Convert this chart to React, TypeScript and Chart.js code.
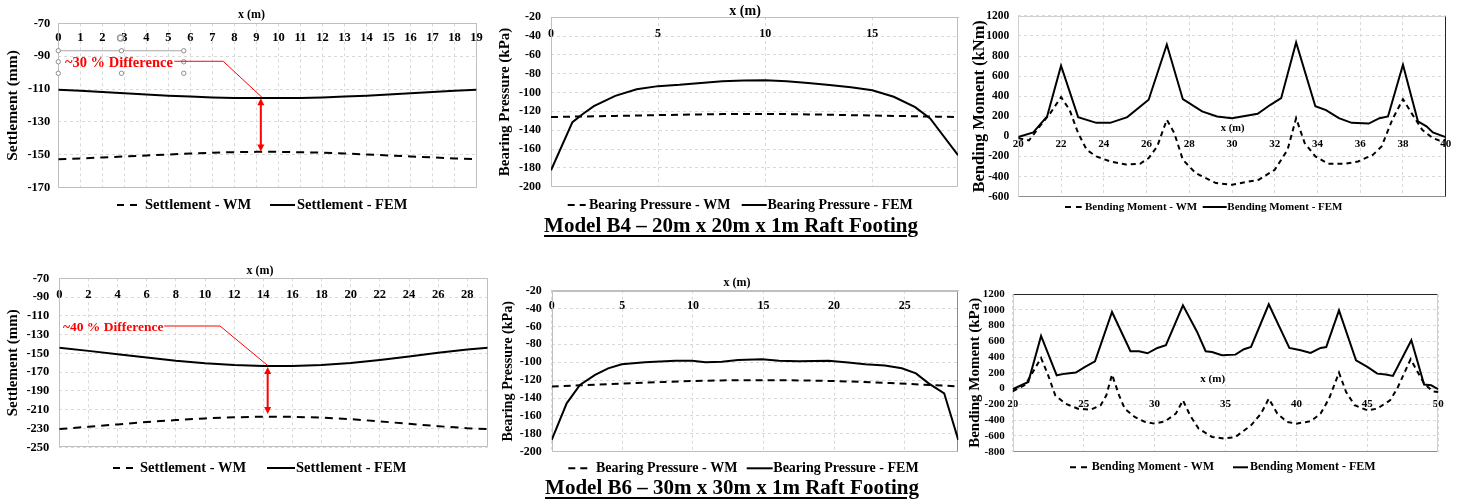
import React, { useEffect, useRef } from 'react';
import { Chart, registerables } from 'chart.js';

Chart.register(...registerables);

const SERIF = '"Liberation Serif", "Times New Roman", Times, serif';
const X_TITLE = 'x (m)';
const TITLE_B4 = 'Model B4 – 20m x 20m x 1m Raft Footing';
const TITLE_B6 = 'Model B6 – 30m x 30m x 1m Raft Footing';

// ---------------- Model B4 : settlement ----------------
const b4SettleX = [0, 1, 2, 3, 4, 5, 6, 7, 8, 9, 10, 11, 12, 13, 14, 15, 16, 17, 18, 19];
const b4SettleWM = [-152.7, -152.2, -151.6, -151.0, -150.4, -149.8, -149.2, -148.7, -148.4, -148.2, -148.2, -148.4, -148.7, -149.2, -149.8, -150.4, -151.0, -151.6, -152.2, -152.7];
const b4SettleFEM = [-110.4, -111.0, -111.8, -112.6, -113.3, -114.0, -114.6, -115.1, -115.4, -115.5, -115.5, -115.4, -115.1, -114.6, -114.0, -113.3, -112.6, -111.8, -111.0, -110.4];

// ---------------- Model B4 : bearing pressure ----------------
const b4PressWmX = [0, 1, 2, 3, 4, 5, 6, 7, 8, 9, 10, 11, 12, 13, 14, 15, 16, 17, 18, 19];
const b4PressWM = [-126, -125.6, -125.2, -124.8, -124.4, -124, -123.6, -123.2, -122.9, -122.7, -122.7, -122.9, -123.2, -123.6, -124, -124.4, -124.8, -125.2, -125.6, -126];
const b4PressFemX = [0, 1, 1.5, 2, 3, 4, 5, 6, 7, 8, 9, 10, 11, 12, 13, 14, 15, 16, 17, 17.7, 19];
const b4PressFEM = [-182.5, -131.5, -122.5, -114.5, -103.5, -96.5, -93.2, -91.8, -89.8, -88, -87.3, -87, -88, -90, -92, -94.5, -97.5, -104.5, -115.5, -127.5, -166.5];

// ---------------- Model B4 : bending moment ----------------
const b4MomentWmX = [20, 20.5, 21, 21.5, 22, 22.4, 22.8, 23.2, 23.65, 24.3, 25.05, 25.7, 26.1, 26.5, 26.95, 27.3, 27.7, 28.3, 29.25, 30, 31.25, 32, 32.6, 33, 33.4, 33.9, 34.5, 35.3, 35.9, 36.6, 37, 37.5, 38, 38.4, 38.9, 39.4, 39.7, 40];
const b4MomentWM = [-17, -40, 100, 232, 391, 265, 33, -133, -199, -249, -280, -272, -216, -100, 166, 33, -232, -365, -464, -481, -431, -332, -133, 182, -66, -199, -272, -272, -249, -182, -100, 166, 371, 232, 66, -17, -40, -33];
const b4MomentFemX = [20, 20.7, 21.35, 22, 22.8, 23.65, 24.3, 25.1, 26.1, 26.95, 27.7, 28.6, 29.3, 30, 31.2, 31.8, 32.3, 33, 33.9, 34.4, 35, 35.6, 36.4, 36.9, 37.3, 38, 38.7, 39.1, 39.4, 40];
const b4MomentFEM = [-5, 40, 200, 705, 192, 135, 135, 192, 365, 915, 371, 250, 199, 182, 225, 315, 381, 935, 300, 262, 182, 135, 128, 182, 199, 713, 150, 100, 40, -7];

// ---------------- Model B6 : settlement ----------------
const b6SettleX = [0, 2, 4, 6, 8, 10, 12, 14, 16, 18, 20, 22, 24, 26, 28, 29.4];
const b6SettleWM = [-230.5, -228.2, -225.6, -223.1, -221, -219.2, -218, -217.4, -217.6, -218.4, -220, -222.4, -225, -227.5, -229.7, -230.5];
const b6SettleFEM = [-143.9, -147.3, -150.8, -154.3, -157.8, -160.5, -162.3, -163.3, -163.3, -162.3, -160.2, -157, -153.2, -149.3, -145.8, -143.9];

// ---------------- Model B6 : bearing pressure ----------------
const b6PressWmX = [0, 2, 4, 6, 8, 10, 12, 14, 16, 18, 20, 22, 24, 26, 28, 28.8];
const b6PressWM = [-127, -125.8, -124.5, -123.2, -122, -121, -120.3, -120, -120, -120.4, -121, -122, -123.3, -124.8, -126.3, -127];
const b6PressFemX = [0, 1.06, 2, 3.07, 4, 4.96, 6.6, 8.75, 9.93, 10.9, 12.06, 13.2, 14.9, 16.1, 17.5, 19.6, 21, 22.2, 23.6, 24.8, 25.8, 26.7, 27.8, 28.8];
const b6PressFEM = [-186.9, -145.9, -125.4, -114.2, -106.8, -102.3, -100.1, -98.2, -98.2, -100.1, -99.4, -97.5, -96.7, -98.2, -98.9, -98.2, -100.4, -102.3, -103.7, -106.8, -112.4, -123.6, -134.7, -186.9];

// ---------------- Model B6 : bending moment ----------------
const b6MomentWmX = [20, 20.9, 22, 22.5, 23, 23.7, 24.6, 25.5, 26.2, 26.6, 27, 27.5, 27.9, 28.6, 29.3, 30, 30.75, 31.5, 32, 32.5, 33.1, 34.05, 34.9, 35.7, 36.8, 37.5, 38.05, 38.65, 39.35, 40, 41, 41.7, 42.3, 43, 43.5, 44.1, 45, 45.7, 46.6, 47.1, 48.05, 49, 49.6, 50];
const b6MomentWM = [-34, 51, 389, 169, -85, -190, -254, -266, -211, -85, 178, -85, -254, -359, -420, -444, -414, -317, -148, -338, -507, -613, -634, -613, -465, -317, -127, -317, -423, -444, -414, -317, -127, 203, -42, -211, -275, -254, -148, 0, 372, 63, -34, -42];
const b6MomentFemX = [20, 21.1, 22, 23.1, 23.7, 24.45, 25.1, 25.8, 27, 28.3, 28.9, 29.5, 30.2, 30.8, 32, 33, 33.6, 34.05, 34.75, 35.7, 36.3, 36.8, 38.05, 39.5, 40.3, 41, 41.7, 42.1, 43, 44.2, 45, 45.7, 46.3, 46.8, 48.1, 49, 49.5, 50];
const b6MomentFEM = [-8, 85, 668, 169, 190, 203, 275, 347, 972, 474, 474, 448, 516, 550, 1057, 719, 474, 465, 423, 431, 499, 528, 1070, 516, 486, 452, 516, 528, 993, 359, 275, 190, 178, 161, 613, 51, 42, -8];

const zip = (xs: number[], ys: number[]) => xs.map((x, i) => ({ x, y: ys[i] }));
const bold = (size: number) => ({ family: SERIF, size, weight: 'bold' as const });

const LIGHT = '#bfbfbf';
const LIGHTER = '#d0d0d0';
const DARK = '#262626';
const MID = '#8c8c8c';

const specs: any[] = [
  {
    key: 'b4s',
    box: { left: 0, top: 0, w: 490, h: 220 },
    pad: { top: 23.3, right: 4, bottom: 32.3 },
    yWidth: 58.3,
    series: { wm: 'Settlement - WM', fem: 'Settlement - FEM', wmX: b4SettleX, wmY: b4SettleWM, femX: b4SettleX, femY: b4SettleFEM, dash: [8, 6] },
    x: { min: 0, max: 19, step: 1, at: -70, font: 12.5, pad: 7.2 },
    y: { min: -170, max: -70, step: 20, font: 12.5, pad: 8, title: 'Settlement (mm)', titleFont: 15.5, titlePad: 3.7 },
    xTitle: { x: 8.78, y: -64.95, font: 12 },
    legend: { y: 205, font: 14.5, dash: [7, 6], items: [[117, 138, 145], [270, 295, 297]] },
    frame: { top: LIGHT, right: LIGHT, bottom: LIGHT, left: LIGHT },
    note: {
      text: '~30 % Difference', tx: 0.3, ty: -94.1, font: 14.5,
      leader: [[5.27, -93.1], [7.49, -93.1], [9.25, -115]],
      arrow: { x: 9.2, from: -115.6, to: -148 },
      handles: {
        line: [[0, -86.7], [5.7, -86.7]],
        dots: [[0, -86.7], [2.87, -86.7], [5.7, -86.7], [0, -93.4], [5.7, -93.4], [0, -100.4], [2.87, -100.4], [5.7, -100.4]],
        rot: [2.83, -78.9],
      },
    },
  },
  {
    key: 'b4p',
    box: { left: 490, top: 0, w: 470, h: 220 },
    pad: { top: 15.7, right: 2, bottom: 33.3 },
    yWidth: 61,
    series: { wm: 'Bearing Pressure - WM', fem: 'Bearing Pressure - FEM', wmX: b4PressWmX, wmY: b4PressWM, femX: b4PressFemX, femY: b4PressFEM, dash: [7, 5] },
    x: { min: 0, max: 19, step: 5, at: -20, font: 12, pad: 9.4 },
    y: { min: -200, max: -20, step: 20, font: 12, pad: 10, title: 'Bearing Pressure (kPa)', titleFont: 15, titlePad: 6 },
    xTitle: { x: 9.06, y: -14, font: 14 },
    legend: { y: 205, font: 14, dash: [7, 5], items: [[77.7, 95.7, 99], [251.7, 276.7, 277.5]] },
    frame: { top: LIGHT, right: LIGHT, bottom: LIGHT, left: LIGHT },
  },
  {
    key: 'b4m',
    box: { left: 960, top: 0, w: 500, h: 220 },
    pad: { top: 15.7, right: 14.3, bottom: 23.3 },
    yWidth: 58.3,
    series: { wm: 'Bending Moment - WM', fem: 'Bending Moment - FEM', wmX: b4MomentWmX, wmY: b4MomentWM, femX: b4MomentFemX, femY: b4MomentFEM, dash: [5, 4] },
    x: { min: 20, max: 40, step: 2, at: 0, font: 11, pad: 1 },
    y: { min: -600, max: 1200, step: 200, font: 11.5, pad: 9, title: 'Bending Moment (kNm)', titleFont: 16.5, titlePad: 10.1 },
    xTitle: { x: 30.03, y: 76.6, font: 10.5 },
    legend: { y: 207, font: 11, dash: [6, 5], items: [[105, 121.7, 125], [242.7, 266.7, 267.3]] },
    frame: { top: LIGHTER, right: DARK, bottom: MID, left: LIGHTER },
  },
  {
    key: 'b6s',
    box: { left: 0, top: 255, w: 490, h: 225 },
    pad: { top: 23.3, right: 2.3, bottom: 32.7 },
    yWidth: 59.3,
    series: { wm: 'Settlement - WM', fem: 'Settlement - FEM', wmX: b6SettleX, wmY: b6SettleWM, femX: b6SettleX, femY: b6SettleFEM, dash: [8, 6] },
    x: { min: 0, max: 29.4, step: 2, at: -70, font: 12.5, pad: 9.2 },
    y: { min: -250, max: -70, step: 20, font: 12.5, pad: 10, title: 'Settlement (mm)', titleFont: 15, titlePad: 4 },
    xTitle: { x: 13.77, y: -61.9, font: 12 },
    legend: { y: 213, font: 14.5, dash: [7, 6], items: [[113, 133, 140], [267, 295, 296]] },
    frame: { top: LIGHT, right: LIGHT, bottom: LIGHT, left: LIGHT },
    note: {
      text: '~40 % Difference', tx: 0.25, ty: -121.9, font: 13.5,
      leader: [[7.2, -120.8], [11.03, -120.8], [14.3, -162.8]],
      arrow: { x: 14.3, from: -164.5, to: -214.5 },
    },
  },
  {
    key: 'b6p',
    box: { left: 490, top: 255, w: 470, h: 225 },
    pad: { top: 35.7, right: 1.7, bottom: 28.3 },
    yWidth: 61.7,
    series: { wm: 'Bearing Pressure - WM', fem: 'Bearing Pressure - FEM', wmX: b6PressWmX, wmY: b6PressWM, femX: b6PressFemX, femY: b6PressFEM, dash: [7, 5] },
    x: { min: 0, max: 28.8, step: 5, at: -20, font: 12, pad: 8.1 },
    y: { min: -200, max: -20, step: 20, font: 12, pad: 10, title: 'Bearing Pressure (kPa)', titleFont: 14.2, titlePad: 9.5 },
    xTitle: { x: 13.12, y: -11.7, font: 12 },
    legend: { y: 213.3, font: 14, dash: [7, 5], items: [[78.3, 100, 106], [256.7, 282.7, 283.3]] },
    frame: { top: LIGHT, right: MID, bottom: LIGHT, left: LIGHT },
  },
  {
    key: 'b6m',
    box: { left: 960, top: 255, w: 500, h: 225 },
    pad: { top: 39, right: 21.7, bottom: 28.3 },
    yWidth: 52.7,
    series: { wm: 'Bending Moment - WM', fem: 'Bending Moment - FEM', wmX: b6MomentWmX, wmY: b6MomentWM, femX: b6MomentFemX, femY: b6MomentFEM, dash: [5, 4] },
    x: { min: 20, max: 50, step: 5, at: 0, font: 11, pad: 9 },
    y: { min: -800, max: 1200, step: 200, font: 11, pad: 8, title: 'Bending Moment (kPa)', titleFont: 15, titlePad: 6 },
    xTitle: { x: 34.1, y: 114, font: 11 },
    legend: { y: 212.3, font: 12, dash: [6, 5], items: [[110, 128, 131.7], [273, 288, 290]] },
    frame: { top: DARK, right: LIGHTER, bottom: MID, left: LIGHTER },
  },
];

function makeExtras(s: any) {
  return {
    id: 'extras',
    beforeDatasetsDraw(chart: any) {
      const { ctx, chartArea: a } = chart;
      const f = s.frame;
      const L = Math.round(a.left) + 0.5;
      const R = Math.round(a.right) - 0.5;
      const T = Math.round(a.top) + 0.5;
      const B = Math.round(a.bottom) - 0.5;
      ctx.save();
      ctx.lineWidth = 1;
      ctx.setLineDash([]);
      const seg = (c: string, x1: number, y1: number, x2: number, y2: number) => {
        ctx.strokeStyle = c;
        ctx.beginPath();
        ctx.moveTo(x1, y1);
        ctx.lineTo(x2, y2);
        ctx.stroke();
      };
      seg(f.top, L, T, R, T);
      seg(f.bottom, L, B, R, B);
      seg(f.left, L, T, L, B);
      seg(f.right, R, T, R, B);
      ctx.restore();
    },
    afterDraw(chart: any) {
      const { ctx } = chart;
      const xs = chart.scales.x;
      const ys = chart.scales.y;
      const px = (v: number) => xs.getPixelForValue(v);
      const py = (v: number) => ys.getPixelForValue(v);
      ctx.save();
      // axis title for x
      ctx.font = `bold ${s.xTitle.font}px ${SERIF}`;
      ctx.fillStyle = '#000';
      ctx.textAlign = 'center';
      ctx.textBaseline = 'middle';
      ctx.fillText(X_TITLE, px(s.xTitle.x), py(s.xTitle.y));

      // legend
      const lg = s.legend;
      ctx.font = `bold ${lg.font}px ${SERIF}`;
      ctx.textAlign = 'left';
      chart.data.datasets.forEach((ds: any, i: number) => {
        const it = lg.items[i];
        ctx.beginPath();
        ctx.setLineDash(ds.borderDash && ds.borderDash.length ? lg.dash : []);
        ctx.lineWidth = 2;
        ctx.strokeStyle = ds.borderColor;
        ctx.moveTo(it[0], lg.y);
        ctx.lineTo(it[1], lg.y);
        ctx.stroke();
        ctx.setLineDash([]);
        ctx.fillStyle = '#000';
        ctx.fillText(ds.label, it[2], lg.y);
      });

      // annotation
      const n = s.note;
      if (n) {
        if (n.handles) {
          const h = n.handles;
          ctx.strokeStyle = '#a6a6a6';
          ctx.lineWidth = 1;
          ctx.beginPath();
          ctx.moveTo(px(h.line[0][0]), py(h.line[0][1]));
          ctx.lineTo(px(h.line[1][0]), py(h.line[1][1]));
          ctx.stroke();
          ctx.strokeStyle = '#8c8c8c';
          h.dots.forEach((d: number[]) => {
            ctx.beginPath();
            ctx.arc(px(d[0]), py(d[1]), 2.2, 0, Math.PI * 2);
            ctx.fillStyle = '#ffffff';
            ctx.fill();
            ctx.stroke();
          });
          ctx.beginPath();
          ctx.arc(px(h.rot[0]), py(h.rot[1]), 3, 0, Math.PI * 2);
          ctx.strokeStyle = '#9a9a9a';
          ctx.lineWidth = 1.5;
          ctx.stroke();
        }
        ctx.strokeStyle = '#ff0000';
        ctx.fillStyle = '#ff0000';
        ctx.lineWidth = 1;
        ctx.beginPath();
        n.leader.forEach((p: number[], i: number) => {
          if (i === 0) ctx.moveTo(px(p[0]), py(p[1]));
          else ctx.lineTo(px(p[0]), py(p[1]));
        });
        ctx.stroke();
        ctx.font = `bold ${n.font}px ${SERIF}`;
        ctx.textAlign = 'left';
        ctx.textBaseline = 'middle';
        ctx.fillText(n.text, px(n.tx), py(n.ty));
        const ax = px(n.arrow.x);
        const y1 = py(n.arrow.from);
        const y2 = py(n.arrow.to);
        const head = 7;
        const hw = 3.5;
        ctx.lineWidth = 2;
        ctx.beginPath();
        ctx.moveTo(ax, y1 + head - 1);
        ctx.lineTo(ax, y2 - head + 1);
        ctx.stroke();
        ctx.beginPath();
        ctx.moveTo(ax, y1);
        ctx.lineTo(ax - hw, y1 + head);
        ctx.lineTo(ax + hw, y1 + head);
        ctx.closePath();
        ctx.fill();
        ctx.beginPath();
        ctx.moveTo(ax, y2);
        ctx.lineTo(ax - hw, y2 - head);
        ctx.lineTo(ax + hw, y2 - head);
        ctx.closePath();
        ctx.fill();
      }
      ctx.restore();
    },
  };
}

function buildConfig(s: any): any {
  const sr = s.series;
  return {
    type: 'line',
    data: {
      datasets: [
        {
          label: sr.wm,
          data: zip(sr.wmX, sr.wmY),
          borderColor: '#000000',
          borderWidth: 2,
          borderDash: sr.dash,
          pointRadius: 0,
          tension: 0,
          fill: false,
        },
        {
          label: sr.fem,
          data: zip(sr.femX, sr.femY),
          borderColor: '#000000',
          borderWidth: 2,
          pointRadius: 0,
          tension: 0,
          fill: false,
        },
      ],
    },
    options: {
      animation: false,
      responsive: false,
      devicePixelRatio: 1,
      layout: { padding: { left: 0, top: s.pad.top, right: s.pad.right, bottom: s.pad.bottom } },
      plugins: {
        legend: { display: false },
        title: { display: false },
        tooltip: { enabled: false },
      },
      scales: {
        x: {
          type: 'linear',
          min: s.x.min,
          max: s.x.max,
          position: { y: s.x.at },
          ticks: {
            stepSize: s.x.step,
            includeBounds: false,
            autoSkip: false,
            maxRotation: 0,
            font: bold(s.x.font),
            color: '#000000',
            padding: s.x.pad,
            callback: (v: any) => String(v),
          },
          grid: { color: '#d9d9d9', drawTicks: false, lineWidth: 1 },
          border: { display: true, color: LIGHT, width: 1, dash: [3, 3] },
        },
        y: {
          type: 'linear',
          min: s.y.min,
          max: s.y.max,
          afterFit: (sc: any) => {
            sc.width = s.yWidth;
          },
          ticks: {
            stepSize: s.y.step,
            autoSkip: false,
            font: bold(s.y.font),
            color: '#000000',
            padding: s.y.pad,
            callback: (v: any) => String(v),
          },
          grid: { color: '#d9d9d9', drawTicks: false, lineWidth: 1 },
          border: { display: false, dash: [3, 3] },
          title: {
            display: true,
            text: s.y.title,
            font: bold(s.y.titleFont),
            color: '#000000',
            padding: { top: s.y.titlePad, bottom: 0 },
          },
        },
      },
    },
    plugins: [makeExtras(s)],
  };
}

function ChartBox({ spec }: { spec: any }) {
  const ref = useRef<HTMLCanvasElement | null>(null);
  useEffect(() => {
    if (!ref.current) return;
    const chart = new Chart(ref.current, buildConfig(spec));
    return () => chart.destroy();
  }, [spec]);
  return (
    <canvas
      ref={ref}
      width={spec.box.w}
      height={spec.box.h}
      style={{ position: 'absolute', left: spec.box.left, top: spec.box.top, width: spec.box.w, height: spec.box.h }}
    />
  );
}

const titleStyle = (cx: number, top: number): React.CSSProperties => ({
  position: 'absolute',
  left: cx,
  top,
  transform: 'translateX(-50%)',
  fontFamily: SERIF,
  fontWeight: 'bold',
  fontSize: 21,
  lineHeight: '21px',
  textDecoration: 'underline',
  textDecorationThickness: '2px',
  textUnderlineOffset: '3px',
  whiteSpace: 'nowrap',
  color: '#000',
});

export default function App() {
  return (
    <div style={{ position: 'fixed', left: 0, top: 0, width: 1460, height: 503, background: '#ffffff', overflow: 'hidden' }}>
      {specs.map((s) => (
        <ChartBox key={s.key} spec={s} />
      ))}
      <div style={titleStyle(731, 215.4)}>{TITLE_B4}</div>
      <div style={titleStyle(732, 477)}>{TITLE_B6}</div>
    </div>
  );
}
